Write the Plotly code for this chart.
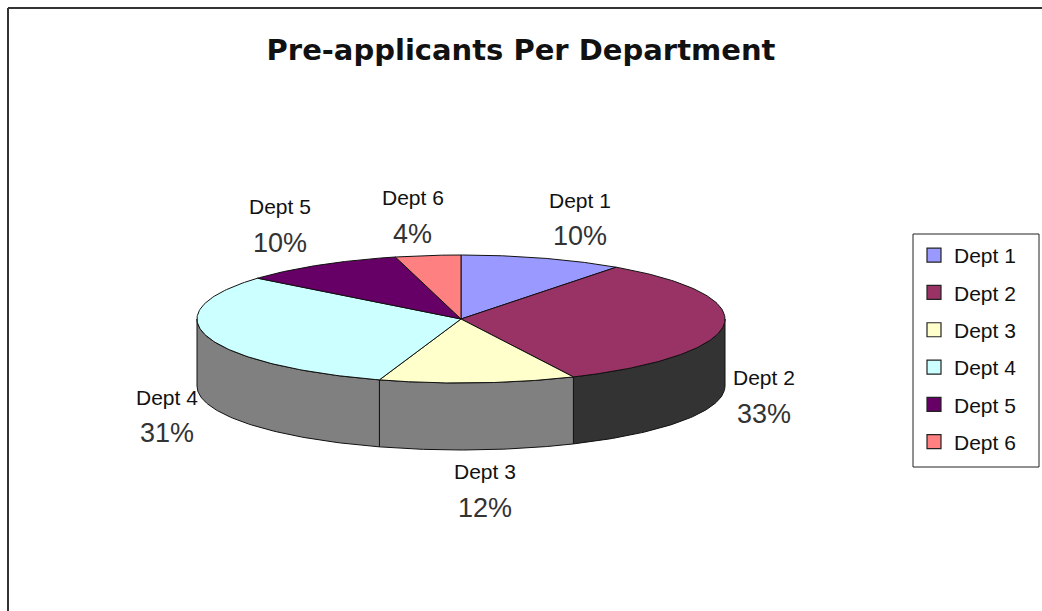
import numpy as np
import plotly.graph_objects as go

# ---- data ----
categories = ["Dept 1", "Dept 2", "Dept 3", "Dept 4", "Dept 5", "Dept 6"]
values = [10, 33, 12, 31, 10, 4]
title_text = "Pre-applicants Per Department"

# ---- style ----
top_colors = ["#9999FF", "#993366", "#FFFFCC", "#CCFFFF", "#660066", "#FF8080"]
side_colors = ["#4d4d80", "#333333", "#808080", "#808080", "#330033", "#804040"]
W, H = 1042, 611
CX, CY = 461, 319       # centre of top face (pixels)
RA, RB = 264, 64        # ellipse semi-axes
DEPTH = 67              # pie thickness
FONT = "Liberation Sans, Arial, sans-serif"
TITLE_FONT = "DejaVu Sans, Liberation Sans, sans-serif"
LEG_BOX = (913, 234, 1039, 467)

total = float(sum(values))
fracs = np.array(values) / total
ends = np.cumsum(fracs) * 360.0
starts = ends - fracs * 360.0


def ell(theta_deg, dy=0.0):
    t = np.radians(theta_deg)
    return CX + RA * np.sin(t), CY - RB * np.cos(t) + dy


fig = go.Figure()

# side walls (front half only: 90..270 deg clockwise from top)
for i in range(len(values)):
    s, e = max(starts[i], 90.0), min(ends[i], 270.0)
    if e <= s:
        continue
    th = np.linspace(s, e, 80)
    xt, yt = ell(th)
    xb, yb = ell(th[::-1], DEPTH)
    xs = np.concatenate([xt, xb, xt[:1]])
    ys = np.concatenate([yt, yb, yt[:1]])
    fig.add_trace(go.Scatter(x=xs, y=ys, mode="lines", fill="toself",
                             fillcolor=side_colors[i],
                             line=dict(color="#111111", width=1),
                             hoverinfo="skip", showlegend=False))

# top faces
for i in range(len(values)):
    th = np.linspace(starts[i], ends[i], 120)
    xt, yt = ell(th)
    xs = np.concatenate([[CX], xt, [CX]])
    ys = np.concatenate([[CY], yt, [CY]])
    fig.add_trace(go.Scatter(x=xs, y=ys, mode="lines", fill="toself",
                             fillcolor=top_colors[i],
                             line=dict(color="#111111", width=1),
                             name=categories[i], hoverinfo="name",
                             showlegend=False))

# legend entries
for i in range(len(values)):
    fig.add_trace(go.Scatter(x=[None], y=[None], mode="markers",
                             marker=dict(symbol="square", size=14, color=top_colors[i],
                                         line=dict(color="#222222", width=1.2)),
                             name=categories[i], legendgroup=categories[i],
                             showlegend=True))

# labels
for i in range(len(values)):
    mid = (starts[i] + ends[i]) / 2.0
    t = np.radians(mid)
    sn, cs = np.sin(t), np.cos(t)
    front = cs < 0
    ex, ey = ell(mid, DEPTH if front else 0.0)
    ox = np.clip(sn * 3, -1, 1) * 40
    oy = -np.clip(cs * (1 if front else 3), -1, 1) * 40
    lx, ly = ex + ox, ey + oy
    pct = f"{round(fracs[i] * 100):.0f}%"
    fig.add_annotation(x=lx, y=ly - 18, text=categories[i], showarrow=False,
                       font=dict(family=FONT, size=21, color="#111111"),
                       xanchor="center", yanchor="middle")
    fig.add_annotation(x=lx, y=ly + 18, text=pct, showarrow=False,
                       font=dict(family=FONT, size=27, color="#333333"),
                       xanchor="center", yanchor="middle")

# chart border
fig.add_shape(type="line", x0=8, x1=W, y0=8, y1=8, line=dict(color="#333333", width=2))
fig.add_shape(type="line", x0=8, x1=8, y0=8, y1=H, line=dict(color="#333333", width=2))
# legend frame
fig.add_shape(type="rect", x0=LEG_BOX[0], y0=LEG_BOX[1], x1=LEG_BOX[2], y1=LEG_BOX[3],
              line=dict(color="#222222", width=1), fillcolor="white", layer="below")

fig.update_layout(
    width=W, height=H,
    margin=dict(l=0, r=0, t=0, b=0),
    paper_bgcolor="white", plot_bgcolor="white",
    xaxis=dict(range=[0, W], visible=False, fixedrange=True),
    yaxis=dict(range=[H, 0], visible=False, fixedrange=True),
    title=dict(text=f"<b>{title_text}</b>", x=521 / W, xanchor="center",
               y=1 - 50 / H, yanchor="middle",
               font=dict(family=TITLE_FONT, size=29, color="#111111")),
    legend=dict(x=914 / W, y=1 - 235 / H, xanchor="left", yanchor="top",
                bgcolor="rgba(0,0,0,0)", borderwidth=0,
                font=dict(family=FONT, size=21, color="#111111"),
                tracegroupgap=7, itemwidth=30),
    showlegend=True,
)

fig.write_html("out.html")
